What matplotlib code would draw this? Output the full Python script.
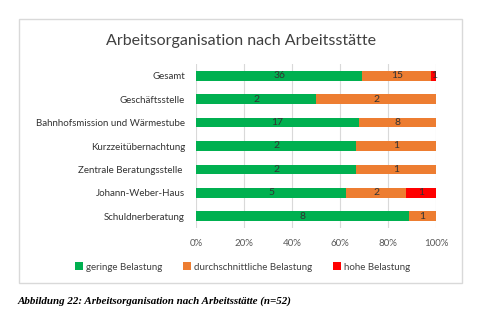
import matplotlib.pyplot as plt
from matplotlib.patches import Rectangle

categories = ["Gesamt", "Geschäftsstelle", "Bahnhofsmission und Wärmestube",
              "Kurzzeitübernachtung", "Zentrale Beratungsstelle ", "Johann-Weber-Haus",
              "Schuldnerberatung"]
gering = [36, 2, 17, 2, 2, 5, 8]
durchschnitt = [15, 2, 8, 1, 1, 2, 1]
hoch = [1, 0, 0, 0, 0, 1, 0]
series_names = ["geringe Belastung", "durchschnittliche Belastung", "hohe Belastung"]
colors = ["#00B050", "#ED7D31", "#FF0000"]
ticks = [0, 20, 40, 60, 80, 100]

plt.rcParams['font.family'] = ['Lato', 'DejaVu Sans']

fig = plt.figure(figsize=(4.85, 3.23), dpi=100)
fig.patches.append(Rectangle((19 / 485, 1 - 283 / 323), 443 / 485, 264 / 323,
                             transform=fig.transFigure, fill=False,
                             edgecolor="#d9d9d9", linewidth=1))

ax = fig.add_axes([196 / 485, 1 - 228 / 323, 240 / 485, 164 / 323])

y = list(range(len(categories)))
left = [0.0] * len(categories)
for vals, name, col in zip([gering, durchschnitt, hoch], series_names, colors):
    pct = [v / (g + d + h) * 100 for v, g, d, h in zip(vals, gering, durchschnitt, hoch)]
    ax.barh(y, pct, left=left, height=0.42, color=col, label=name, zorder=3)
    for yi, l, p, v in zip(y, left, pct, vals):
        if v > 0:
            ax.text(l + p / 2, yi, str(v), ha="center", va="center",
                    fontsize=7.5, color="#333333", zorder=4)
    left = [l + p for l, p in zip(left, pct)]

ax.set_xlim(0, 100)
ax.set_ylim(len(categories) - 0.5, -0.5)
ax.set_xticks(ticks)
ax.set_xticklabels([f"{t}%" for t in ticks], fontsize=7, color="#595959")
ax.set_yticks(y)
ax.set_yticklabels(categories, fontsize=7, color="#333333")
ax.tick_params(length=0, pad=8)
ax.tick_params(axis="y", pad=8)
ax.grid(axis="x", color="#d9d9d9", linewidth=0.8, zorder=0)
for s in ax.spines.values():
    s.set_visible(False)

fig.text(0.497, 1 - 41 / 323, "Arbeitsorganisation nach Arbeitsstätte",
         ha="center", va="center", fontsize=11.5, color="#404040")

handles, labels = ax.get_legend_handles_labels()
fig.legend(handles, labels, loc="center", bbox_to_anchor=(0.5, 1 - 267 / 323),
           ncol=3, frameon=False, fontsize=7, handlelength=0.8, handleheight=0.8,
           columnspacing=2.2, handletextpad=0.3, labelcolor="#404040")

fig.text(18 / 485, 1 - 301 / 323, "Abbildung 22: Arbeitsorganisation nach Arbeitsstätte (n=52)",
         ha="left", va="center", fontsize=7.9, family="Liberation Serif",
         style="italic", weight="bold")

fig.savefig("out.png", dpi=100)
